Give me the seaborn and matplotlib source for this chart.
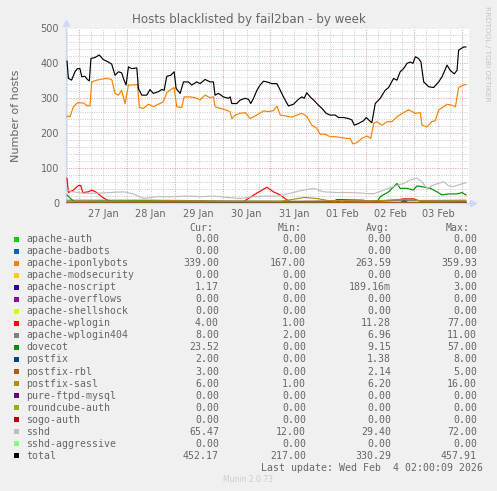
import numpy as np
import pandas as pd
import matplotlib
matplotlib.use("Agg")
import matplotlib.pyplot as plt
import seaborn as sns
from matplotlib.patches import Rectangle

# ---------------- data (hours since 26 Jan 00:00) ----------------
total_h = [18, 18.7, 20.3, 22, 23.2, 24.5, 25.4, 27, 28.2, 29.2, 30, 32, 34.2, 36.2, 38.7, 40.4, 42.1, 43.8, 45.4, 46.6,
           47.6, 48.8, 50.4, 53, 53.8, 55.5, 58, 59.6, 61.3, 63.8, 65.5, 66.7, 68, 70, 71.7, 72.7, 74.7, 76.4, 78.9, 80.5,
           83, 84.7, 87.2, 89.7, 91.4, 92.2, 93.9, 96.4, 98.9, 99.8, 100.6, 103.1, 104.8, 107.3, 109, 110.1, 111.5, 113.2, 114.8, 116.5,
           118.2, 120.7, 123.2, 124.9, 126.5, 129, 131.5, 134, 135.7, 136.9, 138.2, 139.9, 141.6, 144.1, 145.8, 147.9, 149.9, 152.4, 154.1, 156.6,
           159.1, 160.8, 162, 164.2, 166.7, 168, 169.2, 170.8, 172.5, 175, 177.5, 179.2, 181.7, 183.4, 185, 186.7, 188.4, 190.1, 191.4, 192.6,
           194.2, 195.4, 196.8, 199.3, 201.8, 204.3, 206, 208.5, 210.1, 212.1, 213.5, 214.3, 216.8, 218]
total_v = [407, 357, 352, 376, 385, 385, 362, 363, 354, 350, 414, 417, 424, 411, 404, 398, 366, 376, 373, 352,
           338, 390, 385, 387, 328, 309, 309, 325, 314, 319, 325, 323, 363, 366, 376, 328, 314, 347, 347, 338,
           347, 342, 354, 347, 347, 309, 314, 304, 300, 304, 285, 285, 295, 300, 297, 285, 300, 323, 338, 349,
           347, 342, 342, 323, 304, 278, 283, 297, 304, 300, 316, 304, 295, 280, 271, 257, 252, 252, 245, 245,
           242, 238, 223, 228, 236, 245, 238, 230, 285, 300, 323, 331, 357, 352, 376, 385, 400, 404, 400, 419,
           414, 404, 347, 333, 331, 347, 362, 395, 380, 370, 380, 438, 447, 447]

iponly_h = [18.0, 19.5, 21.2, 23.2, 26.2, 28.2, 29.5, 30.4, 32.9, 35.4, 37.9, 40.4, 42.1, 43.8, 45.4, 47.1, 48.8, 51.3, 53.3, 54.3,
            56.3, 58.8, 61.3, 63.8, 66.3, 68.0, 70.0, 71.7, 73.0, 75.5, 76.7, 79.7, 82.2, 84.7, 87.2, 89.7, 91.4, 92.2, 94.8, 98.1,
            99.8, 100.6, 102.3, 104.8, 107.3, 109.8, 113.1, 116.5, 119.0, 121.5, 123.2, 124.9, 128.2, 130.7, 133.2, 135.7, 138.2, 140.7, 143.2, 144.9,
            147.4, 149.9, 152.4, 154.9, 158.3, 159.9, 161.3, 163.3, 165.8, 168.3, 170.3, 171.7, 173.3, 175.9, 178.4, 180.9, 183.4, 186.7, 189.2, 192.6,
            195.1, 195.9, 198.4, 200.9, 202.6, 204.3, 206.8, 208.5, 211.0, 212.7, 214.3, 216.8, 218.0]
iponly_v = [249, 247, 276, 287, 287, 278, 278, 347, 352, 355, 357, 354, 314, 309, 323, 285, 338, 338, 340, 274,
            271, 283, 276, 283, 290, 316, 325, 331, 276, 274, 304, 304, 302, 295, 309, 302, 304, 276, 271, 266,
            261, 242, 252, 257, 259, 242, 252, 264, 262, 265, 278, 252, 249, 246, 252, 257, 248, 223, 214, 197,
            197, 190, 190, 188, 185, 185, 169, 173, 185, 192, 185, 228, 233, 223, 233, 233, 247, 259, 267, 257,
            259, 223, 218, 233, 236, 267, 276, 283, 280, 276, 331, 338, 340]

sshd_h = [18, 21.2, 26.2, 32.9, 39.6, 46.3, 51.3, 56.3, 63, 71.3, 78, 84.7, 91.4, 98.1, 104.8, 111.5, 118.2, 124.9, 129.9, 134.9,
          141.6, 146.6, 153.3, 160, 166.7, 171.7, 176.7, 181.7, 186.7, 190.1, 193.4, 195.9, 198.4, 201.8, 206.8, 209.3, 211.8, 214.3, 218]
sshd_v = [37, 32, 28, 28, 30, 32, 26, 13, 18, 18, 20, 18, 20, 16, 13, 18, 20, 20, 28, 35,
          42, 32, 30, 30, 28, 26, 37, 47, 56, 66, 71, 61, 42, 52, 61, 49, 47, 52, 58]

wplogin_h = [18, 18.7, 21.2, 23.7, 24.9, 25.9, 28.7, 30.4, 32.9, 35.4, 37.9, 41.2, 70, 106.5, 108.1, 113.1, 118.2, 121.5, 124.9, 128.2,
             129.9, 151.6, 153.3, 166.7, 168.3, 183.4, 186.7, 191.5, 195.2, 218]
wplogin_v = [71, 30, 37, 50, 50, 30, 32, 37, 30, 18, 9, 4, 3, 4, 10, 28, 45, 32, 23, 9,
             4, 5, 10, 8, 5, 8, 12, 12, 5, 4]

dovecot_h = [18, 20.3, 21.5, 40, 60, 80, 100, 130, 150, 173.3, 175, 179.2, 183.4, 185, 188.4, 191.7, 193.4, 197.6, 200.1, 203.4,
             206, 209.3, 213.5, 216, 218]
dovecot_v = [23, 10, 4, 5, 6, 3, 2, 2, 0, 2, 18, 32, 56, 42, 42, 37, 49, 45, 42, 32,
             23, 26, 26, 30, 23]

sasl_h = [18, 40, 70, 100, 125, 131, 137, 143, 150, 170, 184, 190, 195, 205, 218]
sasl_v = [5, 5, 6, 5, 5, 10, 16, 13, 6, 5, 10, 11, 6, 5, 6]

wp404_h = [18, 60, 80, 100, 130, 160, 190, 218]
wp404_v = [8, 8, 7, 6, 5, 6, 7, 8]

postfix_h = [18, 84, 86, 88, 100, 148, 150, 152, 154, 156, 158, 185, 187, 189, 210, 218]
postfix_v = [1, 1, 5, 1, 1, 1, 4, 1, 5, 1, 4, 1, 6, 1, 1, 2]

rbl_h = [18, 50, 100, 150, 200, 218]
rbl_v = [2, 2, 3, 2, 2, 3]

noscript_h = [18, 200, 212, 218]
noscript_v = [0, 0, 1, 1.17]

zero_h = [18, 218]
zero_v = [0, 0]

names = ["apache-auth", "apache-badbots", "apache-iponlybots", "apache-modsecurity", "apache-noscript",
         "apache-overflows", "apache-shellshock", "apache-wplogin", "apache-wplogin404", "dovecot",
         "postfix", "postfix-rbl", "postfix-sasl", "pure-ftpd-mysql", "roundcube-auth", "sogo-auth",
         "sshd", "sshd-aggressive", "total"]
colors = ["#00CC00", "#0066B3", "#FF8000", "#FFCC00", "#330099", "#990099", "#CCFF00", "#FF0000",
          "#808080", "#008F00", "#00487D", "#B35A00", "#B38F00", "#6B006B", "#8FB300", "#B30000",
          "#BEBEBE", "#80FF80", "#000000"]
cur = ["0.00", "0.00", "339.00", "0.00", "1.17", "0.00", "0.00", "4.00", "8.00", "23.52",
       "2.00", "3.00", "6.00", "0.00", "0.00", "0.00", "65.47", "0.00", "452.17"]
mins = ["0.00", "0.00", "167.00", "0.00", "0.00", "0.00", "0.00", "1.00", "2.00", "0.00",
        "0.00", "0.00", "1.00", "0.00", "0.00", "0.00", "12.00", "0.00", "217.00"]
avgs = ["0.00", "0.00", "263.59", "0.00", "189.16m", "0.00", "0.00", "11.28", "6.96", "9.15",
        "1.38", "2.14", "6.20", "0.00", "0.00", "0.00", "29.40", "0.00", "330.29"]
maxs = ["0.00", "0.00", "359.93", "0.00", "3.00", "0.00", "0.00", "77.00", "11.00", "57.00",
        "8.00", "5.00", "16.00", "0.00", "0.00", "0.00", "72.00", "0.00", "457.91"]

day_ticks = [36, 60, 84, 108, 132, 156, 180, 204]
day_labels = ["27 Jan", "28 Jan", "29 Jan", "30 Jan", "31 Jan", "01 Feb", "02 Feb", "03 Feb"]

series = {
    "apache-auth": (zero_h, zero_v), "apache-badbots": (zero_h, zero_v),
    "apache-iponlybots": (iponly_h, iponly_v), "apache-modsecurity": (zero_h, zero_v),
    "apache-noscript": (noscript_h, noscript_v), "apache-overflows": (zero_h, zero_v),
    "apache-shellshock": (zero_h, zero_v), "apache-wplogin": (wplogin_h, wplogin_v),
    "apache-wplogin404": (wp404_h, wp404_v), "dovecot": (dovecot_h, dovecot_v),
    "postfix": (postfix_h, postfix_v), "postfix-rbl": (rbl_h, rbl_v), "postfix-sasl": (sasl_h, sasl_v),
    "pure-ftpd-mysql": (zero_h, zero_v), "roundcube-auth": (zero_h, zero_v), "sogo-auth": (zero_h, zero_v),
    "sshd": (sshd_h, sshd_v), "sshd-aggressive": (zero_h, zero_v), "total": (total_h, total_v),
}
rows = []
for n in names:
    hh, vv = series[n]
    for a, b in zip(hh, vv):
        rows.append((n, a, b))
df = pd.DataFrame(rows, columns=["series", "hour", "value"])

# ---------------- figure ----------------
W, H = 497, 491
BG = "#F0F0F0"
FONT = "#666666"
sns.set_theme(style="white")
plt.rcParams["font.family"] = ["DejaVu Sans"]
fig = plt.figure(figsize=(W / 100, H / 100), dpi=100, facecolor=BG)

def px(x, y):
    return x / W, 1 - y / H

L, R, T, B = 66, 469, 28.5, 203
ax = fig.add_axes([L / W, 1 - B / H, (R - L) / W, (B - T) / H])
ax.set_facecolor("white")
ax.set_xlim(17.5, 219.5)
ax.set_ylim(0, 500)

# grid
MINOR = "#cccccc"
MAJOR = "#eaa0a0"
DOT = (0, (1, 1.3))
for h in np.arange(18, 219.5, 6):
    if h % 24 != 0:
        ax.axvline(h, color=MINOR, lw=0.72, ls=DOT, zorder=0)
for h in np.arange(24, 219.5, 24):
    ax.axvline(h, color=MAJOR, lw=0.72, ls=DOT, zorder=0.5)
for v in np.arange(20, 501, 20):
    if v % 100 != 0:
        ax.axhline(v, color=MINOR, lw=0.72, ls=DOT, zorder=0)
for v in np.arange(100, 501, 100):
    ax.axhline(v, color=MAJOR, lw=0.72, ls=DOT, zorder=0.5)

sns.lineplot(data=df, x="hour", y="value", hue="series", hue_order=names, palette=colors,
             estimator=None, sort=False, legend=False, lw=0.85, ax=ax, zorder=3)

ax.set_xlabel("")
ax.set_ylabel("Number of hosts", color=FONT, fontsize=8, labelpad=14)
ax.set_xticks(day_ticks)
ax.set_xticklabels(day_labels)
ax.set_yticks([0, 100, 200, 300, 400, 500])
ax.tick_params(axis="both", length=0, labelsize=7, colors=FONT)
ax.tick_params(axis="x", pad=4)
ax.tick_params(axis="y", pad=5)
for s in ["top", "right"]:
    ax.spines[s].set_visible(False)
for s in ["left", "bottom"]:
    ax.spines[s].set_color("#CFD6F8")
    ax.spines[s].set_linewidth(0.9)
ax.plot([0], [1.03], marker="^", ms=4, color="#CFD6F8", transform=ax.transAxes, clip_on=False)
ax.plot([1.01], [0], marker=">", ms=4, color="#CFD6F8", transform=ax.transAxes, clip_on=False)

fig.text(*px(249, 19), "Hosts blacklisted by fail2ban - by week", ha="center", va="center",
         fontsize=8.6, color=FONT)
fig.text(*px(487, 54), "RRDTOOL / TOBI OETIKER", rotation=270, ha="center", va="center",
         fontsize=5.4, color="#c4c4c4")

# legend
mono = "DejaVu Sans Mono"
fs = 7.1
y0 = 228.3
step = 12.02
for txt, xr in [("Cur:", 213), ("Min:", 302), ("Avg:", 390), ("Max:", 470)]:
    fig.text(*px(xr, y0), txt, ha="right", va="center", fontsize=fs, family=mono, color=FONT)
for i, n in enumerate(names):
    y = y0 + 11 + i * step
    fig.patches.append(Rectangle(px(14, y + 2.6), 5.3 / W, 5.3 / H, transform=fig.transFigure,
                                 facecolor=colors[i], edgecolor="none", figure=fig))
    fig.text(*px(26.5, y), n, ha="left", va="center", fontsize=fs, family=mono, color=FONT)
    fig.text(*px(219, y), cur[i], ha="right", va="center", fontsize=fs, family=mono, color=FONT)
    fig.text(*px(306, y), mins[i], ha="right", va="center", fontsize=fs, family=mono, color=FONT)
    fig.text(*px(391, y), avgs[i], ha="right", va="center", fontsize=fs, family=mono, color=FONT)
    fig.text(*px(477, y), maxs[i], ha="right", va="center", fontsize=fs, family=mono, color=FONT)
fig.text(*px(483, y0 + 11 + 19 * step), "Last update: Wed Feb  4 02:00:09 2026", ha="right", va="center",
         fontsize=fs, family=mono, color=FONT)
fig.text(*px(248, 480), "Munin 2.0.73", ha="center", va="center", fontsize=5.5, color="#cccccc")

fig.savefig("out.png", dpi=100, facecolor=BG)
